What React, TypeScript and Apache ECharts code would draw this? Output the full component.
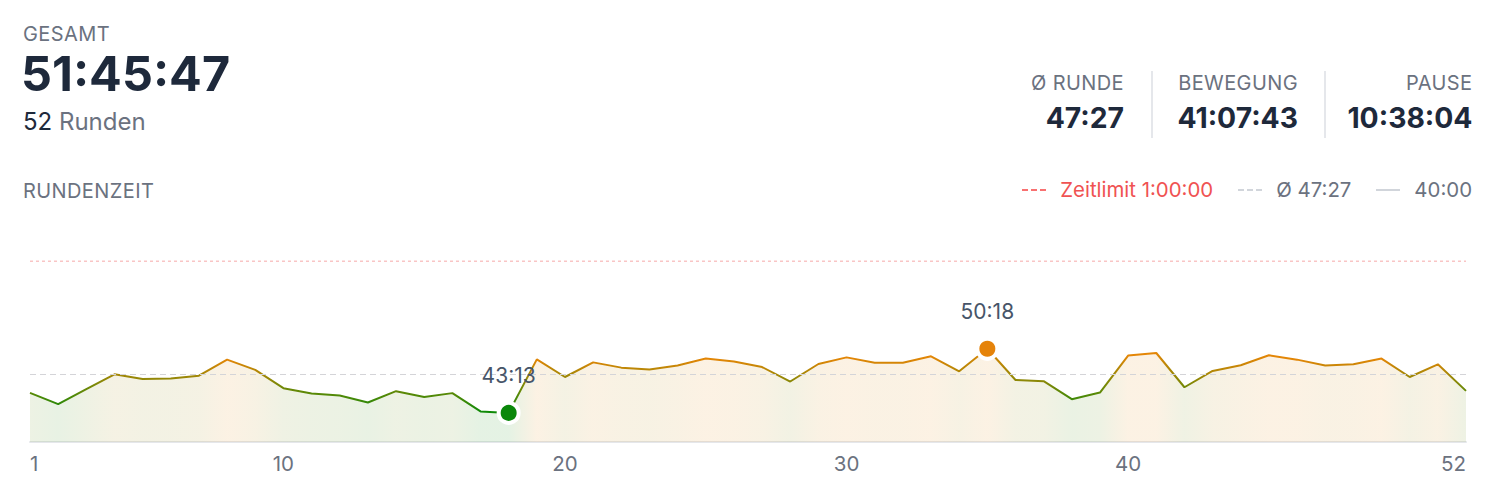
import React, { useEffect, useRef } from "react";
import * as echarts from "echarts";

const laps: string[] = Array.from({ length: 52 }, (_, i) => String(i + 1));
// lap times in seconds
const lapTimes: number[] = [
  2726, 2651, 2750, 2849, 2818, 2821, 2840, 2946, 2878, 2757,
  2722, 2708, 2662, 2737, 2699, 2724, 2603, 2593, 2948, 2831,
  2928, 2893, 2880, 2907, 2953, 2933, 2897, 2801, 2917, 2961,
  2926, 2926, 2968, 2869, 3018, 2811, 2803, 2684, 2728, 2973,
  2990, 2763, 2871, 2909, 2975, 2946, 2907, 2915, 2953, 2831,
  2915, 2739,
];
const shownTickLabels: string[] = ["1", "10", "20", "30", "40", "52"];
const yMin = 2400; // 40:00
const yMax = 3600; // 1:00:00
const avgTime = 2847; // 47:27
const limitTime = 3600; // Zeitlimit 1:00:00

const headerStats = [
  { label: "Ø RUNDE", value: "47:27" },
  { label: "BEWEGUNG", value: "41:07:43" },
  { label: "PAUSE", value: "10:38:04" },
];
const legendItems = [
  { text: "Zeitlimit 1:00:00", color: "#f87171", textColor: "#f05252", dash: "6 3" },
  { text: "Ø 47:27", color: "#d1d5db", textColor: "#6b7280", dash: "6 3" },
  { text: "40:00", color: "#d1d5db", textColor: "#6b7280", dash: "" },
];

const GREEN = [14, 138, 8];
const ORANGE = [228, 134, 6];
const FONT = "Inter, 'Noto Sans', sans-serif";

function fmt(s: number): string {
  const m = Math.floor(s / 60);
  const sec = Math.round(s % 60);
  return `${m}:${String(sec).padStart(2, "0")}`;
}

function colorFor(v: number, alpha = 1): string {
  const t = Math.max(0, Math.min(1, (v - 2600) / (2950 - 2600)));
  const c = GREEN.map((g, i) => Math.round(g + (ORANGE[i] - g) * t));
  return alpha >= 1 ? `rgb(${c[0]},${c[1]},${c[2]})` : `rgba(${c[0]},${c[1]},${c[2]},${alpha})`;
}

function Chart() {
  const ref = useRef<HTMLDivElement>(null);
  useEffect(() => {
    if (!ref.current) return;
    const chart = echarts.init(ref.current, undefined, { renderer: "svg" });
    const n = lapTimes.length;
    const lineStops = lapTimes.map((v, i) => ({ offset: i / (n - 1), color: colorFor(v) }));
    const areaStops = lapTimes.map((v, i) => ({ offset: i / (n - 1), color: colorFor(v, 0.11) }));
    let minI = 0;
    let maxI = 0;
    lapTimes.forEach((v, i) => {
      if (v < lapTimes[minI]) minI = i;
      if (v > lapTimes[maxI]) maxI = i;
    });
    const extremes = [
      { value: [minI, lapTimes[minI]], itemStyle: { color: "#0a870a" } },
      { value: [maxI, lapTimes[maxI]], itemStyle: { color: "#e5830a" } },
    ];
    const limitLine = laps.map(() => limitTime);
    chart.setOption({
      animation: false,
      grid: { left: 30, right: 28, top: 41, bottom: 48 },
      xAxis: {
        type: "category",
        data: laps,
        boundaryGap: false,
        axisLine: { show: true, lineStyle: { color: "#e5e7eb", width: 2 } },
        axisTick: { show: false },
        splitLine: { show: false },
        axisLabel: {
          interval: (idx: number) => shownTickLabels.includes(laps[idx]),
          color: "#6b7280",
          fontSize: 20.5,
          fontFamily: FONT,
          margin: 11,
          alignMinLabel: "left",
          alignMaxLabel: "right",
        },
      },
      yAxis: {
        type: "value",
        min: yMin,
        max: yMax,
        show: false,
        splitLine: { show: false },
      },
      series: [
        {
          name: "Zeitlimit",
          type: "line",
          data: limitLine,
          symbol: "none",
          silent: true,
          lineStyle: { color: "#f48c8c", type: [3, 3], width: 1.2 },
          z: 1,
        },
        {
          type: "line",
          data: lapTimes,
          symbol: "none",
          lineStyle: {
            width: 2,
            color: { type: "linear", x: 0, y: 0, x2: 1, y2: 0, colorStops: lineStops },
          },
          areaStyle: {
            color: { type: "linear", x: 0, y: 0, x2: 1, y2: 0, colorStops: areaStops },
            opacity: 1,
          },
          markLine: {
            silent: true,
            symbol: "none",
            label: { show: false },
            lineStyle: { color: "#d4d4d8", type: [6, 4], width: 1 },
            data: [{ yAxis: avgTime }],
          },
          z: 2,
        },
        {
          type: "scatter",
          data: extremes,
          symbol: "circle",
          symbolSize: 20,
          itemStyle: { borderColor: "#ffffff", borderWidth: 4, opacity: 1 },
          label: {
            show: true,
            position: "top",
            distance: 15,
            color: "#475569",
            fontSize: 21,
            fontFamily: FONT,
            formatter: (p: any) => fmt(p.value[1]),
          },
          z: 5,
        },
      ],
    });
    return () => chart.dispose();
  }, []);
  return (
    <div
      ref={ref}
      style={{ position: "absolute", left: 0, top: 220, width: 1494, height: 270 }}
    />
  );
}

// right edges of the stat columns and divider x positions (layout only)
const statRight = [1124, 1298, 1472.5];
const dividerX = [1151, 1324];

export default function App() {
  const label: React.CSSProperties = {
    fontSize: 20,
    lineHeight: "20px",
    color: "#6b7280",
    letterSpacing: 0.4,
    whiteSpace: "nowrap",
  };
  return (
    <div
      style={{
        position: "absolute",
        left: 0,
        top: 0,
        width: 1494,
        height: 490,
        background: "#ffffff",
        fontFamily: FONT,
        overflow: "hidden",
      }}
    >
      <div style={{ ...label, position: "absolute", left: 23, top: 24 }}>GESAMT</div>
      <div
        style={{
          position: "absolute",
          left: 21,
          top: 50,
          fontSize: 48.5,
          lineHeight: "48px",
          fontWeight: 700,
          color: "#1e293b",
          whiteSpace: "nowrap",
        }}
      >
        51:45:47
      </div>
      <div
        style={{
          position: "absolute",
          left: 23,
          top: 110,
          fontSize: 24,
          lineHeight: "24px",
          whiteSpace: "nowrap",
        }}
      >
        <span style={{ color: "#1e293b" }}>52</span>
        <span style={{ color: "#6b7280" }}> Runden</span>
      </div>

      {headerStats.map((s, i) => (
        <div
          key={s.label}
          style={{
            position: "absolute",
            right: 1494 - statRight[i],
            top: 71,
            display: "flex",
            flexDirection: "column",
            alignItems: "flex-end",
          }}
        >
          <div style={{ ...label, marginTop: 2 }}>{s.label}</div>
          <div
            style={{
              marginTop: 10,
              fontSize: 28.3,
              lineHeight: "30px",
              fontWeight: 700,
              color: "#1e293b",
              whiteSpace: "nowrap",
            }}
          >
            {s.value}
          </div>
        </div>
      ))}
      {dividerX.map((x) => (
        <div
          key={x}
          style={{
            position: "absolute",
            left: x,
            top: 71,
            width: 2,
            height: 67,
            background: "#e5e7eb",
          }}
        />
      ))}

      <div style={{ ...label, position: "absolute", left: 23, top: 181 }}>RUNDENZEIT</div>

      <div
        style={{
          position: "absolute",
          right: 22,
          top: 180,
          display: "flex",
          alignItems: "center",
          gap: 25,
        }}
      >
        {legendItems.map((it) => (
          <div key={it.text} style={{ display: "flex", alignItems: "center", gap: 14 }}>
            <svg width={24} height={4} style={{ display: "block" }}>
              <line
                x1={0}
                y1={2}
                x2={24}
                y2={2}
                stroke={it.color}
                strokeWidth={2}
                strokeDasharray={it.dash || undefined}
              />
            </svg>
            <span style={{ ...label, fontSize: 20.4, letterSpacing: 0, color: it.textColor }}>
              {it.text}
            </span>
          </div>
        ))}
      </div>

      <Chart />
    </div>
  );
}
